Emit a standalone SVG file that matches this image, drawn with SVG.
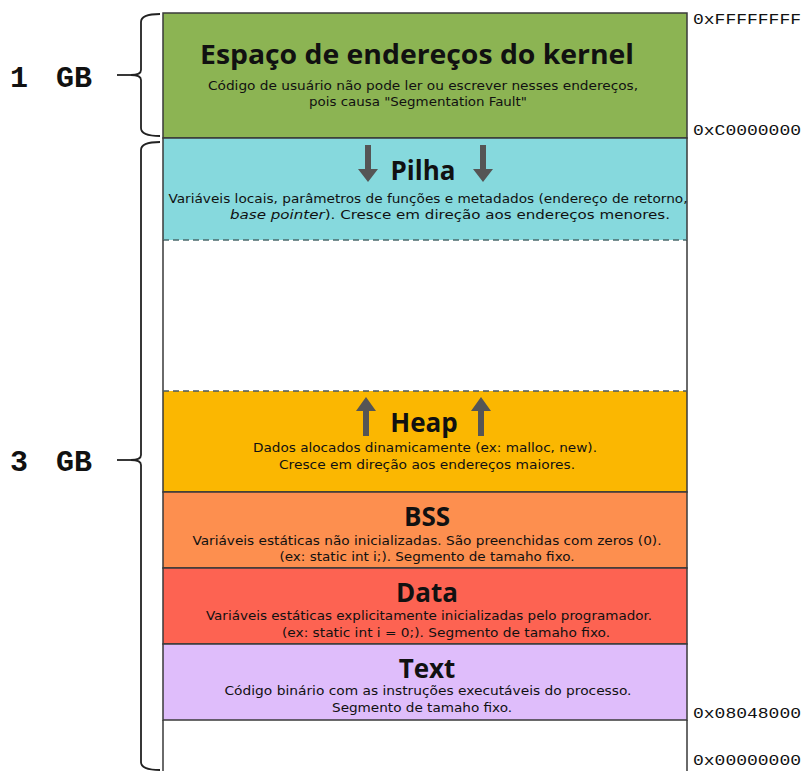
<svg xmlns="http://www.w3.org/2000/svg" width="806" height="771" viewBox="0 0 806 771">
<style>
.seg{stroke:#3a3a3a;stroke-width:1.5}
.t{font-family:"Open Sans","DejaVu Sans",sans-serif;font-weight:bold;font-size:26px;fill:#111;text-anchor:middle}
.d{font-family:"DejaVu Sans Condensed","DejaVu Sans",sans-serif;font-size:12px;fill:#111;text-anchor:middle}
.a{font-family:"Liberation Mono","DejaVu Sans Mono",monospace;font-size:14.5px;fill:#111}
.gb{font-family:"Liberation Mono","Courier New",monospace;font-size:30px;fill:#111;font-weight:bold}
.br{fill:none;stroke:#222;stroke-width:1.8}
.arr{fill:#555}
</style>
<rect width="806" height="771" fill="#fff"/>
<g id="kernel">
<rect class="seg" x="163" y="13" width="524" height="125" fill="#8cb453"/>
<text class="t" x="417" y="64" textLength="434" lengthAdjust="spacingAndGlyphs">Espaço de endereços do kernel</text>
<text class="d" x="423" y="90" textLength="430" lengthAdjust="spacingAndGlyphs">Código de usuário não pode ler ou escrever nesses endereços,</text>
<text class="d" x="418" y="106" textLength="218" lengthAdjust="spacingAndGlyphs">pois causa "Segmentation Fault"</text>
</g>
<g id="pilha">
<rect x="163" y="138" width="524" height="102" fill="#86d9dd"/>
<path class="seg" d="M163 240V138H687V240" fill="none"/>
<line x1="163" y1="240" x2="687" y2="240" stroke="#4a6a6c" stroke-width="1.5" stroke-dasharray="6,4"/>
<text class="t" x="423" y="180">Pilha</text>
<text class="d" x="428" y="203" textLength="519" lengthAdjust="spacingAndGlyphs">Variáveis locais, parâmetros de funções e metadados (endereço de retorno,</text>
<text class="d" x="450" y="219" textLength="440" lengthAdjust="spacingAndGlyphs"><tspan font-style="italic">base pointer</tspan>). Cresce em direção aos endereços menores.</text>
</g>
<g id="free">
<path class="seg" d="M163 240V391M687 240V391" fill="none"/>
</g>
<g id="heap">
<rect x="163" y="391" width="524" height="101" fill="#fbb701"/>
<path class="seg" d="M163 391V492H687V391" fill="none"/>
<line x1="163" y1="391" x2="687" y2="391" stroke="#4a5a60" stroke-width="1.5" stroke-dasharray="6,4"/>
<text class="t" x="424" y="432">Heap</text>
<text class="d" x="425" y="452" textLength="344" lengthAdjust="spacingAndGlyphs">Dados alocados dinamicamente (ex: malloc, new).</text>
<text class="d" x="427" y="469" textLength="296" lengthAdjust="spacingAndGlyphs">Cresce em direção aos endereços maiores.</text>
</g>
<g id="bss">
<rect class="seg" x="163" y="492" width="524" height="76" fill="#fd8f4f"/>
<text class="t" x="427" y="526">BSS</text>
<text class="d" x="427" y="545" textLength="469" lengthAdjust="spacingAndGlyphs">Variáveis estáticas não inicializadas. São preenchidas com zeros (0).</text>
<text class="d" x="427" y="561" textLength="295" lengthAdjust="spacingAndGlyphs">(ex: static int i;). Segmento de tamaho fixo.</text>
</g>
<g id="data">
<rect class="seg" x="163" y="568" width="524" height="76" fill="#fd6352"/>
<text class="t" x="427" y="602">Data</text>
<text class="d" x="429" y="620" textLength="446" lengthAdjust="spacingAndGlyphs">Variáveis estáticas explicitamente inicializadas pelo programador.</text>
<text class="d" x="446" y="637" textLength="328" lengthAdjust="spacingAndGlyphs">(ex: static int i = 0;). Segmento de tamaho fixo.</text>
</g>
<g id="text">
<rect class="seg" x="163" y="644" width="524" height="76" fill="#dfbdfb"/>
<text class="t" x="427" y="678">Text</text>
<text class="d" x="428" y="695" textLength="407" lengthAdjust="spacingAndGlyphs">Código binário com as instruções executáveis do processo.</text>
<text class="d" x="422" y="712" textLength="180" lengthAdjust="spacingAndGlyphs">Segmento de tamaho fixo.</text>
</g>
<g id="reserved">
<path class="seg" d="M163 720V771M687 720V771" fill="none"/>
</g>
<g id="arrows">
<path class="arr" d="M365 145h6v24h7l-10 13l-10-13h7z"/>
<path class="arr" d="M480 145h6v24h7l-10 13l-10-13h7z"/>
<path class="arr" d="M363 436h6v-25h7l-10-14l-10 14h7z"/>
<path class="arr" d="M478 436h6v-25h7l-10-14l-10 14h7z"/>
</g>
<g id="addresses">
<text class="a" x="693" y="24" textLength="108" lengthAdjust="spacingAndGlyphs">0xFFFFFFFF</text>
<text class="a" x="693" y="135" textLength="108" lengthAdjust="spacingAndGlyphs">0xC0000000</text>
<text class="a" x="693" y="718" textLength="108" lengthAdjust="spacingAndGlyphs">0x08048000</text>
<text class="a" x="693" y="765" textLength="108" lengthAdjust="spacingAndGlyphs">0x00000000</text>
</g>
<g id="brace1gb">
<path class="br" d="M160 14Q141 14 141 22V70Q141 75 131 75Q141 75 141 80V128Q141 136 160 136"/>
<line class="br" x1="117" y1="75" x2="131" y2="75"/>
<text class="gb" x="10" y="87">1</text>
<text class="gb" x="56" y="87">GB</text>
</g>
<g id="brace3gb">
<path class="br" d="M160 142Q141 142 141 150V455Q141 460 131 460Q141 460 141 465V762Q141 770 160 770"/>
<line class="br" x1="117" y1="460" x2="131" y2="460"/>
<text class="gb" x="10" y="471">3</text>
<text class="gb" x="56" y="471">GB</text>
</g>
</svg>
